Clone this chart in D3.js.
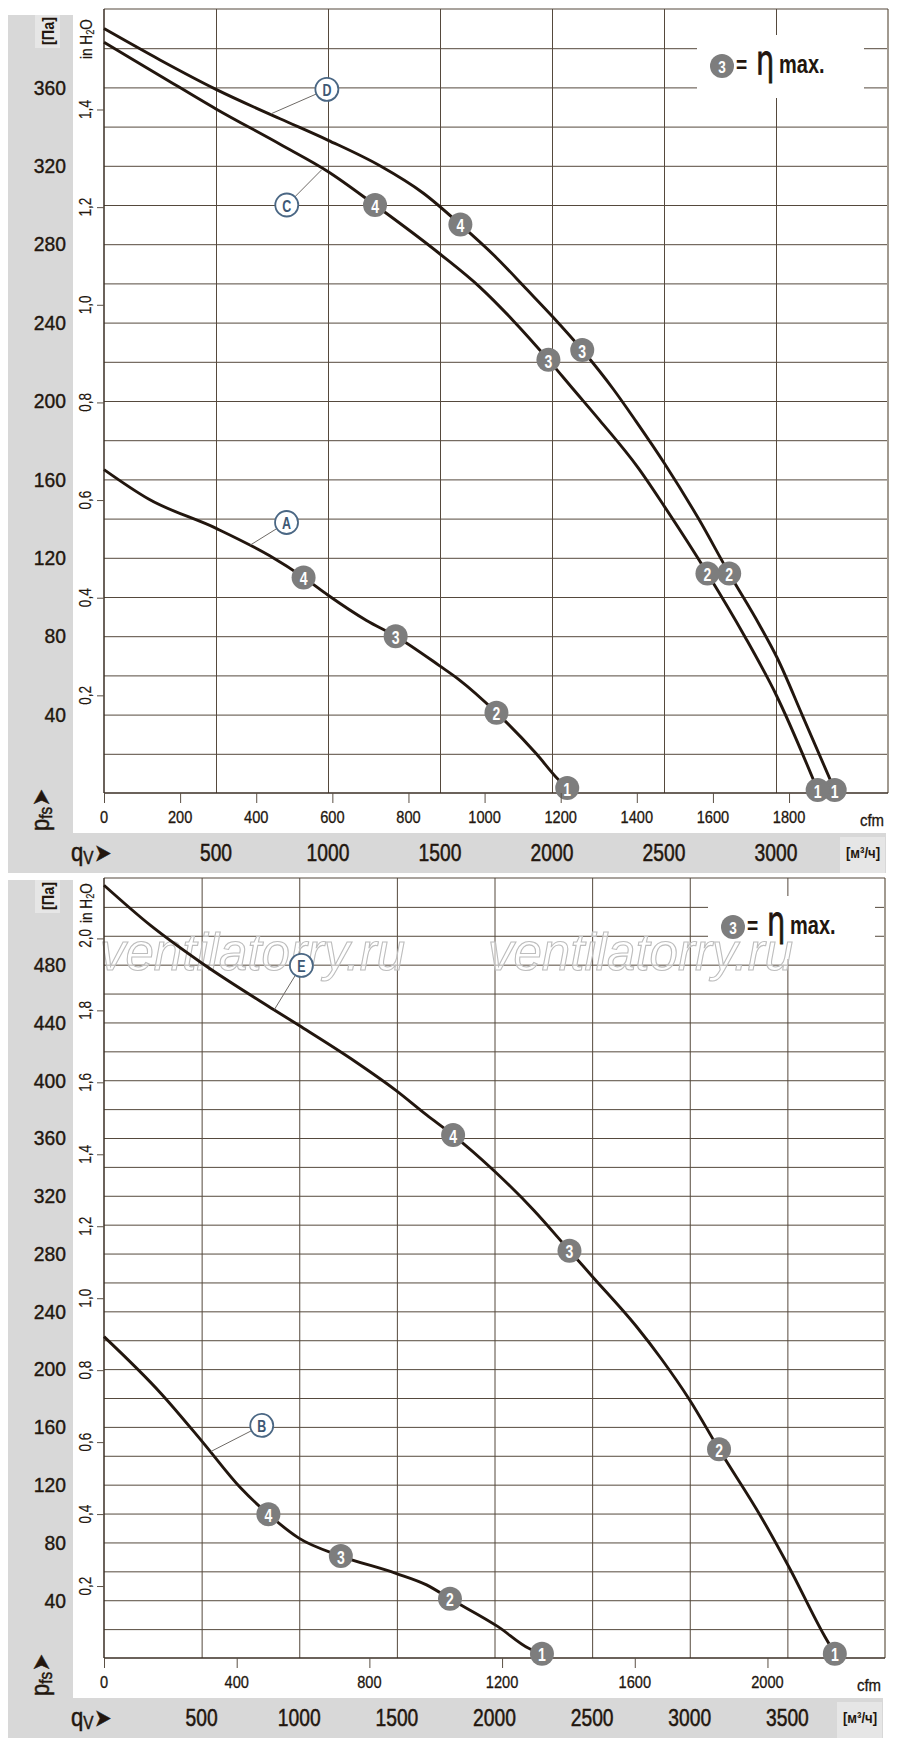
<!DOCTYPE html>
<html><head><meta charset="utf-8">
<script src="https://cdn.jsdelivr.net/npm/d3@7"></script>
<style>html,body{margin:0;padding:0;background:#fff;} svg{display:block;}</style>
</head><body><svg id="c" width="900" height="1749"></svg>
<script>
// ---------------- data ----------------
const topFlowLabels = [500, 1000, 1500, 2000, 2500, 3000];
const topCfmTicks = [0, 200, 400, 600, 800, 1000, 1200, 1400, 1600, 1800];
const topPaLabels = [40, 80, 120, 160, 200, 240, 280, 320, 360];
const topInchLabels = [0.2, 0.4, 0.6, 0.8, 1.0, 1.2, 1.4];

const botFlowLabels = [500, 1000, 1500, 2000, 2500, 3000, 3500];
const botCfmTicks = [0, 400, 800, 1200, 1600, 2000];
const botPaLabels = [40, 80, 120, 160, 200, 240, 280, 320, 360, 400, 440, 480];
const botInchLabels = [0.2, 0.4, 0.6, 0.8, 1.0, 1.2, 1.4, 1.6, 1.8, 2.0];

// curves: [flow m³/h, pressure Pa]
const curveD = [[0,390],[250,374],[500,359],[786,344],[1001,333],[1232,320],[1426,306],[1591,290],[1753,273],[1887,257],[2003,243],[2135,226],[2274,206],[2373,190],[2503,168],[2654,140],[2791,112],[2925,86],[3005,69],[3120,39],[3262,1.5]];
const curveC = [[0,383],[250,366],[500,349],[786,331],[1001,317],[1210,300],[1500,275],[1679,258],[1827,241],[1984,221],[2095,206],[2214,190],[2384,166],[2503,146],[2694,112],[2860,80],[3001,50],[3186,1.5]];
const curveA = [[0,165],[199,150],[501,135],[740,121],[891,110],[999,101],[1172,88],[1302,80],[1497,65],[1583,58],[1752,41],[1930,20],[2027,7],[2068,2.5]];
const curveE = [[0,535],[240,507],[502,481],[868,449],[998,438],[1286,413],[1495,393],[1652,376],[1788,362],[1992,338],[2201,310],[2384,282],[2502,264],[2724,230],[2855,207],[2998,179],[3150,144.5],[3364,98],[3508,63],[3691,15],[3743,3]];
const curveB = [[0,222.5],[293,183],[502,150],[698,118],[842,99.5],[998,83],[1213,70.6],[1495,58.6],[1652,50.6],[1772,41],[2018,21.7],[2175,6.7],[2243,3]];

// numbered operating points: [flow, Pa, number]
const markersD = [[1591,290,'4'],[2135,226,'3'],[2791,112,'2'],[3262,1.5,'1']];
const markersC = [[1210,300,'4'],[1984,221,'3'],[2694,112,'2'],[3186,1.5,'1']];
const markersA = [[891,110,'4'],[1302,80,'3'],[1752,41,'2'],[2068,2.5,'1']];
const markersE = [[1788,362,'4'],[2384,282,'3'],[3150,144.5,'2'],[3743,3,'1']];
const markersB = [[842,99.5,'4'],[1213,70.6,'3'],[1772,41,'2'],[2243,3,'1']];

// curve letters: [letter, label flow, label Pa, leader-end flow, leader-end Pa]
const tagsTop = [['D',995,359,745,346.5],['C',816,300,972,318],['A',815,138,653,126.5]];
const tagsBot = [['E',1011,479.5,873,449],['B',808,161,548,143]];

const etaMark = '3';
const watermarkText = 'ventilatorry.ru';

// ---------------- drawing ----------------
const CFM = 1.69901, INCH = 249.089;
const FONT = "'Liberation Sans', Arial, sans-serif";
const INK = '#22160e', GRID = '#55493d', BAND = '#d8d8d8', BAND2 = '#e6e6e6';
const svg = d3.select('#c');
svg.append('rect').attr('width',900).attr('height',1749).attr('fill','#fff');

function label(g, x, y, str, o = {}) {
  const t = g.append('text')
    .attr('transform', `translate(${x},${y}) rotate(${o.rot||0}) scale(${o.sx||1},1)`)
    .attr('font-family', o.family || FONT)
    .attr('font-size', o.size || 16)
    .attr('font-weight', o.weight || 'normal')
    .attr('font-style', o.style || 'normal')
    .attr('text-anchor', o.anchor || 'middle')
    .attr('dominant-baseline', o.base || 'central')
    .attr('fill', o.fill || INK)
    .text(str);
  if (o.heavy) t.attr('stroke', o.fill || INK).attr('stroke-width', o.heavy);
  return t;
}
const fmtIn = v => d3.format('.1f')(v).replace('.', ',');

const charts = [
  {x0:104,x1:888,y0:9,y1:793,flowMax:3500,paMax:400,bandTop:15,
   flowLabels:topFlowLabels,cfmTicks:topCfmTicks,paLabels:topPaLabels,inchLabels:topInchLabels,
   curves:[curveD,curveC,curveA],markers:[markersD,markersC,markersA],tags:tagsTop,
   legend:[722,66],unitStart:59,watermark:false},
  {x0:104,x1:885,y0:878,y1:1658,flowMax:4000,paMax:540,bandTop:880,
   flowLabels:botFlowLabels,cfmTicks:botCfmTicks,paLabels:botPaLabels,inchLabels:botInchLabels,
   curves:[curveE,curveB],markers:[markersE,markersB],tags:tagsBot,
   legend:[733,927],unitStart:923,watermark:true}
];

charts.forEach(cfg => {
  const {x0,x1,y0,y1,flowMax,paMax} = cfg;
  const x = d3.scaleLinear().domain([0,flowMax]).range([x0,x1]);
  const y = d3.scaleLinear().domain([0,paMax]).range([y1,y0]);
  const xc = d3.scaleLinear().domain([0,flowMax/CFM]).range([x0,x1]);
  const yi = d3.scaleLinear().domain([0,paMax/INCH]).range([y1,y0]);
  const g = svg.append('g');

  // grey bands
  g.append('rect').attr('x',8).attr('y',cfg.bandTop).attr('width',65).attr('height',y1+40-cfg.bandTop).attr('fill',BAND);
  g.append('rect').attr('x',8).attr('y',y1+40).attr('width',x1-2-8).attr('height',40).attr('fill',BAND);
  g.append('rect').attr('x',35).attr('y',cfg.bandTop).attr('width',25).attr('height',33).attr('fill',BAND2);
  g.append('rect').attr('x',x1-48).attr('y',y1+44).attr('width',45).attr('height',36).attr('fill',BAND2);

  // grid
  g.append('g').attr('transform',`translate(0,${y1})`)
    .call(d3.axisBottom(x).tickValues(d3.range(500,flowMax,500)).tickSize(-(y1-y0)).tickFormat(''))
    .call(s => { s.select('.domain').remove(); s.selectAll('line').attr('stroke',GRID).attr('stroke-width',1); });
  g.append('g').attr('transform',`translate(${x0},0)`)
    .call(d3.axisLeft(y).tickValues(d3.range(20,paMax,20)).tickSize(-(x1-x0)).tickFormat(''))
    .call(s => { s.select('.domain').remove(); s.selectAll('line').attr('stroke',GRID).attr('stroke-width',1); });

  // legend box
  const [lx, ly] = cfg.legend;
  g.append('rect').attr('x',lx-25).attr('y',ly-31).attr('width',167).attr('height',63).attr('fill','#fff');

  // watermark
  if (cfg.watermark) {
    [100, 488].forEach(wx => {
      label(g, wx, y0+92, watermarkText, {size:51, style:'italic', anchor:'start', base:'alphabetic', fill:'rgba(255,255,255,0.5)'})
        .attr('stroke','#bdbdbd').attr('stroke-width',1.1);
    });
  }

  // frame
  g.append('line').attr('x1',x1).attr('x2',x1).attr('y1',y0).attr('y2',y1).attr('stroke','#a19a90').attr('stroke-width',2);
  g.append('line').attr('x1',x0).attr('x2',x1).attr('y1',y0).attr('y2',y0).attr('stroke',GRID).attr('stroke-width',1.2);
  g.append('line').attr('x1',x0).attr('x2',x1).attr('y1',y1).attr('y2',y1).attr('stroke','#3a2e25').attr('stroke-width',1.5);
  g.append('line').attr('x1',x0).attr('x2',x0).attr('y1',y0).attr('y2',y1).attr('stroke','#3a2e25').attr('stroke-width',1.5);

  // legend content
  g.append('circle').attr('cx',lx).attr('cy',ly).attr('r',12).attr('fill','#7d7d7d');
  label(g, lx, ly+1, etaMark, {size:17, weight:'bold', sx:0.8, fill:'#fff'});
  label(g, lx+14, ly+7, '=', {size:24, weight:'bold', sx:0.8, anchor:'start', base:'alphabetic'});
  label(g, lx+34, ly+8, 'η', {size:40, sx:0.72, anchor:'start', base:'alphabetic', family:"'DejaVu Sans', sans-serif", heavy:0.8});
  label(g, lx+57, ly+7, 'max.', {size:25, weight:'bold', sx:0.8, anchor:'start', base:'alphabetic'});

  // curves
  const line = d3.line().x(d => x(d[0])).y(d => y(d[1])).curve(d3.curveMonotoneX);
  cfg.curves.forEach(c => {
    g.append('path').attr('d', line(c)).attr('fill','none').attr('stroke',INK).attr('stroke-width',2.9).attr('stroke-linejoin','round');
  });

  // curve letter tags
  cfg.tags.forEach(([t, lf, lp, af, ap]) => {
    g.append('line').attr('x1',x(af)).attr('y1',y(ap)).attr('x2',x(lf)).attr('y2',y(lp)).attr('stroke','#6e6a66').attr('stroke-width',1);
    g.append('circle').attr('cx',x(lf)).attr('cy',y(lp)).attr('r',11.5).attr('fill','#fff').attr('stroke','#4a6784').attr('stroke-width',1.8);
    label(g, x(lf), y(lp)+1, t, {size:16, weight:'bold', sx:0.78, fill:'#3d5874'});
  });

  // numbered markers
  cfg.markers.forEach(ms => ms.forEach(([f, p, n]) => {
    g.append('circle').attr('cx',x(f)).attr('cy',y(p)).attr('r',12).attr('fill','#7d7d7d');
    label(g, x(f), y(p)+1, n, {size:18, weight:'bold', sx:0.78, fill:'#fff'});
  }));

  // cfm axis
  g.append('g').attr('transform',`translate(0,${y1})`)
    .call(d3.axisBottom(xc).tickValues(cfg.cfmTicks).tickSize(10).tickFormat(''))
    .call(s => { s.select('.domain').remove(); s.selectAll('line').attr('stroke','#5b5045'); });
  cfg.cfmTicks.forEach(v => label(g, xc(v), y1+24, String(v), {size:17, sx:0.86, heavy:0.3}));
  label(g, x1-16, y1+27, 'cfm', {size:17, sx:0.88, heavy:0.3});

  // m³/h band labels
  cfg.flowLabels.forEach(v => label(g, x(v), y1+60, String(v), {size:23.5, sx:0.82, heavy:0.5}));
  label(g, x1-25, y1+60, '[м³/ч]', {size:15.5, weight:'bold', sx:0.85});
  const q = label(g, 71, y1+59, 'q', {size:26, sx:0.85, anchor:'start', heavy:0.5});
  q.append('tspan').attr('dy',6).attr('font-size',18).text('V');
  q.append('tspan').attr('dy',-6).attr('font-size',24).attr('font-family',"'DejaVu Sans', sans-serif").attr('dx',1).text('➤');

  // Pa labels
  cfg.paLabels.forEach(v => label(g, 66, y(v), String(v), {size:21, sx:0.92, anchor:'end', heavy:0.4}));
  label(g, 48, cfg.bandTop+16, '[Па]', {size:16, weight:'bold', sx:0.9, rot:-90});
  const p = label(g, 40, y1+38, 'p', {size:26, sx:0.85, rot:-90, anchor:'start', heavy:0.5});
  p.append('tspan').attr('dy',6).attr('font-size',18).text('fs');
  p.append('tspan').attr('dy',-6).attr('font-size',24).attr('font-family',"'DejaVu Sans', sans-serif").attr('dx',1).text('➤');

  // in H2O axis
  g.append('g').attr('transform',`translate(${x0},0)`)
    .call(d3.axisLeft(yi).tickValues(cfg.inchLabels).tickSize(7).tickFormat(''))
    .call(s => { s.select('.domain').remove(); s.selectAll('line').attr('stroke','#5b5045'); });
  cfg.inchLabels.forEach(v => label(g, 86, yi(v), fmtIn(v), {size:16, sx:0.85, rot:-90, heavy:0.2}));
  const u = label(g, 87, cfg.unitStart, 'in H', {size:16, sx:0.85, rot:-90, anchor:'start', heavy:0.2});
  u.append('tspan').attr('dy',3).attr('font-size',11).text('2');
  u.append('tspan').attr('dy',-3).text('O');
});
</script></body></html>
